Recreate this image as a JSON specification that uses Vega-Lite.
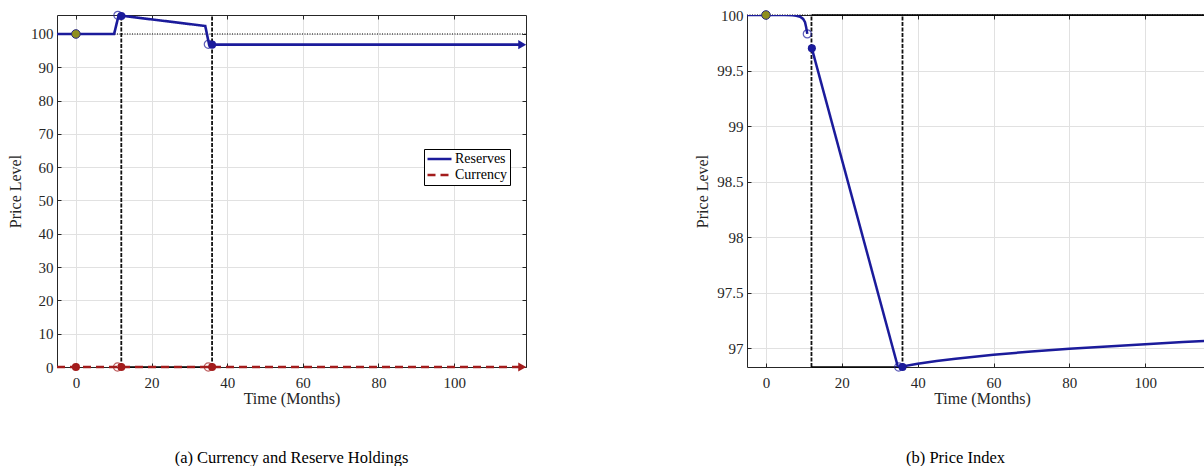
{
  "$schema": "https://vega.github.io/schema/vega-lite/v6.json",
  "padding": {"left": 7, "top": 8, "right": 0, "bottom": 0},
  "spacing": 166,
  "background": "white",
  "config": {
    "view": {"stroke": null},
    "font": "Liberation Serif",
    "axis": {
      "labelFont": "Liberation Serif", "labelFontSize": 15, "labelColor": "#262626",
      "titleFont": "Liberation Serif", "titleFontSize": 16, "titleFontWeight": "normal", "titleColor": "#262626",
      "gridColor": "#e1e1e1", "gridWidth": 1, "domainColor": "#262626", "domainWidth": 1,
      "tickColor": "#262626", "tickSize": -4, "labelFlush": false
    },
    "legend": {
      "orient": "none", "legendX": 367, "legendY": 134, "fillColor": "white", "strokeColor": "#000",
      "padding": 2, "symbolType": "stroke", "symbolSize": 576, "symbolStrokeWidth": 2.5,
      "labelFont": "Liberation Serif", "labelFontSize": 14, "labelColor": "#000", "labelOffset": 2,
      "clipHeight": 16, "rowPadding": 0, "title": null
    },
    "title": {"font": "Liberation Serif", "fontWeight": "normal", "fontSize": 16.5, "color": "#000"}
  },
  "datasets": {
    "a_ref": [{"t": -5, "v": 100}, {"t": 119, "v": 100}],
    "a_ev": [{"t": 12, "lo": 0, "hi": 105.7}, {"t": 36, "lo": 0, "hi": 105.7}],
    "a_box": [{"t": 12, "t2": 36, "v": 0}],
    "a_lines": [
      {"series": "Reserves", "t": -5, "v": 100},
      {"series": "Reserves", "t": 10.1, "v": 100},
      {"series": "Reserves", "t": 11.3, "v": 105.6},
      {"series": "Reserves", "t": 12, "v": 105.5},
      {"series": "Reserves", "t": 34.2, "v": 102.4},
      {"series": "Reserves", "t": 35.2, "v": 96.9},
      {"series": "Reserves", "t": 36, "v": 96.8},
      {"series": "Reserves", "t": 118, "v": 96.8},
      {"series": "Currency", "t": -5, "v": 0},
      {"series": "Currency", "t": 118, "v": 0}
    ],
    "a_pts": [
      {"series": "Reserves", "kind": "start", "t": 0, "v": 100},
      {"series": "Reserves", "kind": "open", "t": 11.1, "v": 105.6},
      {"series": "Reserves", "kind": "filled", "t": 12, "v": 105.4},
      {"series": "Reserves", "kind": "open", "t": 35, "v": 96.9},
      {"series": "Reserves", "kind": "filled", "t": 36, "v": 96.8},
      {"series": "Reserves", "kind": "arrow", "t": 118, "v": 96.8},
      {"series": "Currency", "kind": "filled", "t": 0, "v": 0},
      {"series": "Currency", "kind": "open", "t": 11, "v": 0},
      {"series": "Currency", "kind": "filled", "t": 12, "v": 0},
      {"series": "Currency", "kind": "open", "t": 35, "v": 0},
      {"series": "Currency", "kind": "filled", "t": 36, "v": 0},
      {"series": "Currency", "kind": "arrow", "t": 118, "v": 0}
    ],
    "b_ref": [{"t": -5, "v": 100}, {"t": 115.5, "v": 100}],
    "b_ev": [{"t": 12, "lo": 96.83, "hi": 100}, {"t": 36, "lo": 96.83, "hi": 100}],
    "b_box": [{"t": 12, "t2": 36, "v": 96.83}, {"t": 12, "t2": 115.5, "v": 100}],
    "b_line": [
      {"seg": 1, "t": -5, "v": 100},
      {"seg": 1, "t": 5, "v": 100},
      {"seg": 1, "t": 7, "v": 99.997},
      {"seg": 1, "t": 8, "v": 99.993},
      {"seg": 1, "t": 9, "v": 99.985},
      {"seg": 1, "t": 9.8, "v": 99.965},
      {"seg": 1, "t": 10.3, "v": 99.935},
      {"seg": 1, "t": 10.6, "v": 99.89},
      {"seg": 1, "t": 10.9, "v": 99.83},
      {"seg": 2, "t": 12.1, "v": 99.7},
      {"seg": 2, "t": 34.8, "v": 96.83},
      {"seg": 3, "t": 35.3, "v": 96.83},
      {"seg": 3, "t": 36, "v": 96.835},
      {"seg": 3, "t": 40, "v": 96.86},
      {"seg": 3, "t": 45, "v": 96.885},
      {"seg": 3, "t": 50, "v": 96.905},
      {"seg": 3, "t": 60, "v": 96.94},
      {"seg": 3, "t": 70, "v": 96.97},
      {"seg": 3, "t": 80, "v": 96.995},
      {"seg": 3, "t": 90, "v": 97.015},
      {"seg": 3, "t": 100, "v": 97.035},
      {"seg": 3, "t": 110, "v": 97.055},
      {"seg": 3, "t": 119, "v": 97.07}
    ],
    "b_pts": [
      {"kind": "start", "t": 0, "v": 100},
      {"kind": "open", "t": 10.9, "v": 99.83},
      {"kind": "filled", "t": 12.1, "v": 99.7},
      {"kind": "open", "t": 35, "v": 96.83},
      {"kind": "filled", "t": 36, "v": 96.83}
    ]
  },
  "hconcat": [
    {
      "width": 469,
      "height": 352,
      "title": {"text": "(a) Currency and Reserve Holdings", "orient": "bottom", "offset": 44},
      "resolve": {"axis": {"x": "independent", "y": "independent"}},
      "layer": [
        {
          "data": {"name": "a_ref"},
          "mark": {"type": "line", "color": "#000", "strokeWidth": 1, "strokeDash": [1, 1.5]},
          "encoding": {
            "x": {"field": "t", "type": "quantitative", "scale": {"domain": [-5, 119], "nice": false, "zero": false},
              "axis": {"orient": "bottom", "title": "Time (Months)", "values": [0, 20, 40, 60, 80, 100], "grid": true, "labelPadding": 12, "titlePadding": 0}},
            "y": {"field": "v", "type": "quantitative", "scale": {"domain": [0, 105.7], "nice": false, "zero": false},
              "axis": {"orient": "left", "title": "Price Level", "values": [0, 10, 20, 30, 40, 50, 60, 70, 80, 90, 100], "grid": true, "labelPadding": 8, "minExtent": 26, "maxExtent": 26, "titlePadding": 8}}
          }
        },
        {
          "data": {"name": "a_ev"},
          "mark": {"type": "rule", "color": "#111", "strokeWidth": 1.8, "strokeDash": [4, 1.5]},
          "encoding": {
            "x": {"field": "t", "type": "quantitative", "scale": {"domain": [-5, 119], "nice": false, "zero": false},
              "axis": {"orient": "top", "title": null, "labels": false, "grid": false, "values": [0, 20, 40, 60, 80, 100]}},
            "y": {"field": "lo", "type": "quantitative", "scale": {"domain": [0, 105.7], "nice": false, "zero": false},
              "axis": {"orient": "right", "title": null, "labels": false, "grid": false, "values": [0, 10, 20, 30, 40, 50, 60, 70, 80, 90, 100], "minExtent": 0, "maxExtent": 0}},
            "y2": {"field": "hi"}
          }
        },
        {
          "data": {"name": "a_box"},
          "mark": {"type": "rule", "color": "#000", "strokeWidth": 1.5},
          "encoding": {
            "x": {"field": "t", "type": "quantitative", "axis": null},
            "x2": {"field": "t2"},
            "y": {"field": "v", "type": "quantitative", "axis": null}
          }
        },
        {
          "data": {"name": "a_lines"},
          "mark": {"type": "line", "strokeWidth": 2.6},
          "encoding": {
            "x": {"field": "t", "type": "quantitative", "axis": null},
            "y": {"field": "v", "type": "quantitative", "axis": null},
            "color": {"field": "series", "type": "nominal", "scale": {"domain": ["Reserves", "Currency"], "range": ["#1b1b9b", "#a31c1c"]}},
            "strokeDash": {"field": "series", "type": "nominal", "scale": {"domain": ["Reserves", "Currency"], "range": [[1, 0], [8, 5]]}}
          }
        },
        {
          "data": {"name": "a_pts"},
          "transform": [{"filter": "datum.series === 'Reserves' && datum.kind === 'open'"}],
          "mark": {"type": "point", "filled": false, "color": "#1b1b9b", "size": 65, "strokeWidth": 1.2},
          "encoding": {"x": {"field": "t", "type": "quantitative", "axis": null}, "y": {"field": "v", "type": "quantitative", "axis": null}}
        },
        {
          "data": {"name": "a_pts"},
          "transform": [{"filter": "datum.series === 'Reserves' && datum.kind === 'filled'"}],
          "mark": {"type": "point", "filled": true, "color": "#1b1b9b", "size": 65, "opacity": 1},
          "encoding": {"x": {"field": "t", "type": "quantitative", "axis": null}, "y": {"field": "v", "type": "quantitative", "axis": null}}
        },
        {
          "data": {"name": "a_pts"},
          "transform": [{"filter": "datum.series === 'Currency' && datum.kind === 'open'"}],
          "mark": {"type": "point", "filled": false, "color": "#a31c1c", "size": 65, "strokeWidth": 1.2},
          "encoding": {"x": {"field": "t", "type": "quantitative", "axis": null}, "y": {"field": "v", "type": "quantitative", "axis": null}}
        },
        {
          "data": {"name": "a_pts"},
          "transform": [{"filter": "datum.series === 'Currency' && datum.kind === 'filled'"}],
          "mark": {"type": "point", "filled": true, "color": "#a31c1c", "size": 65, "opacity": 1},
          "encoding": {"x": {"field": "t", "type": "quantitative", "axis": null}, "y": {"field": "v", "type": "quantitative", "axis": null}}
        },
        {
          "data": {"name": "a_pts"},
          "transform": [{"filter": "datum.series === 'Reserves' && datum.kind === 'start'"}],
          "mark": {"type": "point", "filled": true, "fill": "#8f8f1e", "stroke": "#2a2a80", "strokeWidth": 1, "size": 75, "opacity": 1},
          "encoding": {"x": {"field": "t", "type": "quantitative", "axis": null}, "y": {"field": "v", "type": "quantitative", "axis": null}}
        },
        {
          "data": {"name": "a_pts"},
          "transform": [{"filter": "datum.series === 'Reserves' && datum.kind === 'arrow'"}],
          "mark": {"type": "point", "shape": "triangle-right", "filled": true, "color": "#1b1b9b", "size": 85, "opacity": 1},
          "encoding": {"x": {"field": "t", "type": "quantitative", "axis": null}, "y": {"field": "v", "type": "quantitative", "axis": null}}
        },
        {
          "data": {"name": "a_pts"},
          "transform": [{"filter": "datum.series === 'Currency' && datum.kind === 'arrow'"}],
          "mark": {"type": "point", "shape": "triangle-right", "filled": true, "color": "#a31c1c", "size": 85, "opacity": 1},
          "encoding": {"x": {"field": "t", "type": "quantitative", "axis": null}, "y": {"field": "v", "type": "quantitative", "axis": null}}
        }
      ]
    },
    {
      "width": 457,
      "height": 352,
      "title": {"text": "(b) Price Index", "orient": "bottom", "offset": 44, "dx": -20},
      "resolve": {"axis": {"x": "independent", "y": "independent"}},
      "layer": [
        {
          "data": {"name": "b_ref"},
          "mark": {"type": "line", "color": "#000", "strokeWidth": 1, "strokeDash": [1, 1.5]},
          "encoding": {
            "x": {"field": "t", "type": "quantitative", "scale": {"domain": [-5, 115.5], "nice": false, "zero": false},
              "axis": {"orient": "bottom", "title": "Time (Months)", "values": [0, 20, 40, 60, 80, 100], "grid": true, "labelPadding": 12, "titlePadding": 0, "titleX": 235}},
            "y": {"field": "v", "type": "quantitative", "scale": {"domain": [96.83, 100], "nice": false, "zero": false},
              "axis": {"orient": "left", "title": "Price Level", "values": [97, 97.5, 98, 98.5, 99, 99.5, 100], "format": "~g", "grid": true, "labelPadding": 8, "minExtent": 31, "maxExtent": 31, "titlePadding": 6}}
          }
        },
        {
          "data": {"name": "b_ev"},
          "mark": {"type": "rule", "color": "#111", "strokeWidth": 1.8, "strokeDash": [4, 1.5]},
          "encoding": {
            "x": {"field": "t", "type": "quantitative", "scale": {"domain": [-5, 115.5], "nice": false, "zero": false},
              "axis": {"orient": "top", "title": null, "labels": false, "grid": false, "values": [0, 20, 40, 60, 80, 100]}},
            "y": {"field": "lo", "type": "quantitative", "scale": {"domain": [96.83, 100], "nice": false, "zero": false}, "axis": null},
            "y2": {"field": "hi"}
          }
        },
        {
          "data": {"name": "b_box"},
          "mark": {"type": "rule", "color": "#000", "strokeWidth": 1.5},
          "encoding": {
            "x": {"field": "t", "type": "quantitative", "axis": null},
            "x2": {"field": "t2"},
            "y": {"field": "v", "type": "quantitative", "axis": null}
          }
        },
        {
          "data": {"name": "b_line"},
          "mark": {"type": "line", "strokeWidth": 2.5, "color": "#1b1b9b", "clip": true},
          "encoding": {
            "x": {"field": "t", "type": "quantitative", "axis": null},
            "y": {"field": "v", "type": "quantitative", "axis": null},
            "detail": {"field": "seg", "type": "nominal"}
          }
        },
        {
          "data": {"name": "b_pts"},
          "transform": [{"filter": "datum.kind === 'open'"}],
          "mark": {"type": "point", "filled": false, "color": "#1b1b9b", "size": 65, "strokeWidth": 1.2},
          "encoding": {"x": {"field": "t", "type": "quantitative", "axis": null}, "y": {"field": "v", "type": "quantitative", "axis": null}}
        },
        {
          "data": {"name": "b_pts"},
          "transform": [{"filter": "datum.kind === 'filled'"}],
          "mark": {"type": "point", "filled": true, "color": "#1b1b9b", "size": 65, "opacity": 1},
          "encoding": {"x": {"field": "t", "type": "quantitative", "axis": null}, "y": {"field": "v", "type": "quantitative", "axis": null}}
        },
        {
          "data": {"name": "b_pts"},
          "transform": [{"filter": "datum.kind === 'start'"}],
          "mark": {"type": "point", "filled": true, "fill": "#8f8f1e", "stroke": "#2a2a80", "strokeWidth": 1, "size": 75, "opacity": 1},
          "encoding": {"x": {"field": "t", "type": "quantitative", "axis": null}, "y": {"field": "v", "type": "quantitative", "axis": null}}
        }
      ]
    }
  ]
}
